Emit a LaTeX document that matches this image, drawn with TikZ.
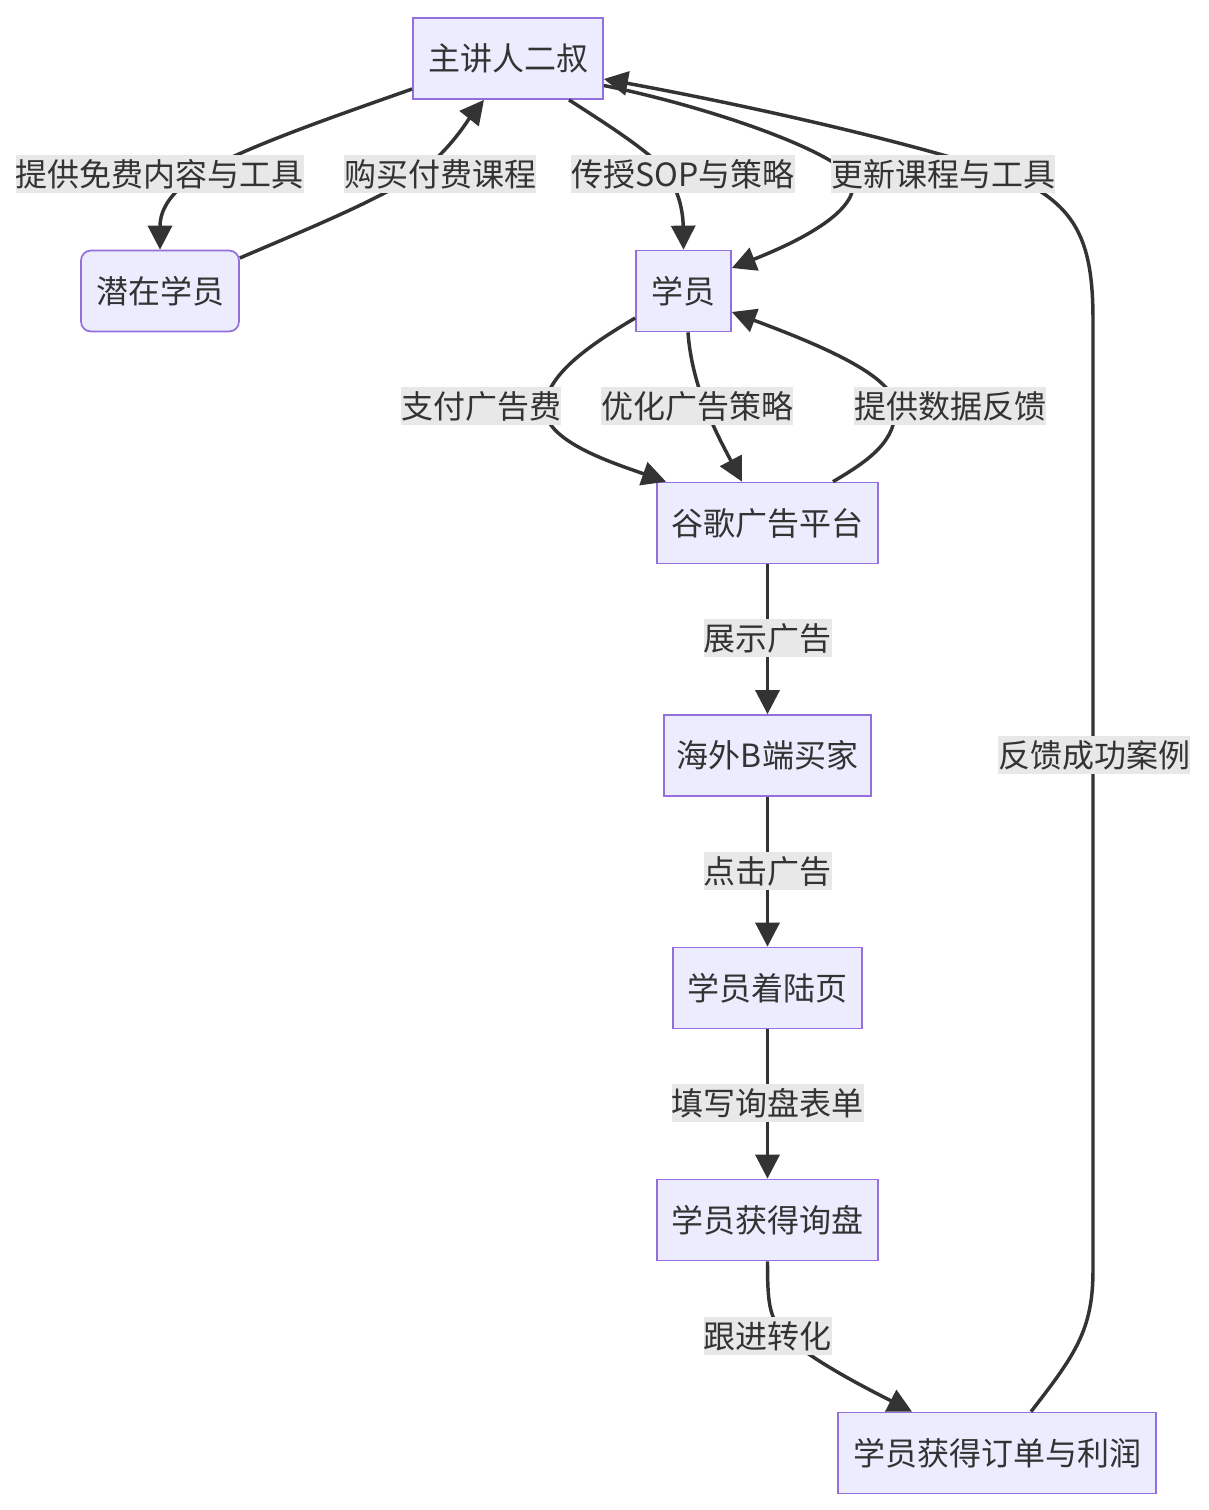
\documentclass[tikz,border=0pt]{standalone}
\usepackage{fontspec}
\setmainfont{Noto Sans CJK SC}
\usetikzlibrary{arrows.meta,calc}
\definecolor{nodefill}{HTML}{ECECFF}
\definecolor{nodeline}{HTML}{9370DB}
\definecolor{edgecol}{HTML}{333333}
\definecolor{lblfill}{HTML}{E8E8E8}
\begin{document}
\begin{tikzpicture}[x=0.75pt,y=-0.75pt,
  box/.style={draw=nodeline, fill=nodefill, line width=1.3pt, minimum height=60.75pt, inner sep=0pt, text=edgecol, font=\fontsize{24pt}{28pt}\selectfont},
  lbl/.style={fill=lblfill, inner xsep=0pt, inner ysep=0pt, minimum height=28.5pt, text=edgecol, font=\fontsize{24pt}{28pt}\selectfont},
  edge/.style={draw=edgecol, line width=2.6pt, -{Triangle[length=18pt,width=18pt]}},
  plainedge/.style={draw=edgecol, line width=2.6pt}]
\useasboundingbox[fill=white] (0,0) rectangle (1208,1510);

% nodes
\node[box, minimum width=142.5pt] (zj) at (508,58.5) {主讲人二叔};
\node[box, minimum width=118.5pt, rounded corners=7.5pt] (qz) at (160,291) {潜在学员};
\node[box, minimum width=71.25pt] (xy) at (683.5,291) {学员};
\node[box, minimum width=165.75pt] (gg) at (767.5,523) {谷歌广告平台};
\node[box, minimum width=155.25pt] (hw) at (767.5,755.5) {海外B端买家};
\node[box, minimum width=141.75pt] (zl) at (767.5,988) {学员着陆页};
\node[box, minimum width=165.75pt] (xp) at (767.5,1220) {学员获得询盘};
\node[box, minimum width=238.5pt] (dd) at (997,1453) {学员获得订单与利润};

% edges
\draw[edge] ($(zj.west)+(0,30.5)$) .. controls (330,118) and (230,152) .. (190,180)
   .. controls (165,198) and (160,215) .. (qz.north);
\draw[edge] ($(qz.east)+(0,-33)$) .. controls (300,232) and (380,200) .. (420,172)
   .. controls (450,150) and (468,120) .. ($(zj.south)+(-24,0)$);
\draw[edge] ($(zj.south)+(61,0)$) .. controls (600,120) and (640,145) .. (660,165)
   .. controls (678,185) and (683,210) .. (xy.north);
\draw[edge] ($(zj.east)+(0,27)$) .. controls (700,105) and (820,145) .. (850,175)
   .. controls (862,195) and (840,225) .. ($(xy.east)+(0,-23)$);
\draw[edge] ($(dd.north)+(34,0)$) .. controls (1075,1355) and (1093,1330) .. (1093,1270)
   -- (1093,320) .. controls (1093,250) and (1080,215) .. (1035,188)
   .. controls (1000,165) and (800,115) .. ($(zj.east)+(0,20.5)$);
\draw[edge] ($(xy.west)+(0,27)$) .. controls (595,342) and (548,372) .. (545,406)
   .. controls (542,440) and (610,462) .. ($(gg.north)+(-101.5,0)$);
\draw[edge] ($(xy.south)+(4.5,0)$) .. controls (692,390) and (720,440) .. ($(gg.north)+(-25.5,0)$);
\draw[edge] ($(gg.north)+(65.5,0)$) .. controls (870,460) and (898,440) .. (895,405)
   .. controls (892,375) and (820,345) .. ($(xy.east)+(0,21)$);
\draw[edge] (gg) -- (hw);
\draw[edge] (hw) -- (zl);
\draw[edge] (zl) -- (xp);
\draw[edge] (xp.south) .. controls (767.5,1310) and (770,1320) .. (790,1340)
   .. controls (820,1365) and (870,1390) .. ($(dd.north)+(-85,0)$);

% labels
\node[lbl] (l1) at (160,174) {提供免费内容与工具};
\node[lbl] (l2) at (440,174) {购买付费课程};
\node[lbl] (l3) at (683,174) {传授SOP与策略};
\node[lbl] (l4) at (943,174) {更新课程与工具};
\node[lbl] (l5) at (481,406) {支付广告费};
\node[lbl] (l6) at (697,406) {优化广告策略};
\node[lbl] (l7) at (950,406) {提供数据反馈};
\node[lbl] (l8) at (767.5,638) {展示广告};
\node[lbl] (l9) at (767.5,871) {点击广告};
\node[lbl] (l10) at (767.5,1103) {填写询盘表单};
\node[lbl] (l11) at (767.5,1336) {跟进转化};
\node[lbl] (l12) at (1094,755) {反馈成功案例};
\end{tikzpicture}
\end{document}
